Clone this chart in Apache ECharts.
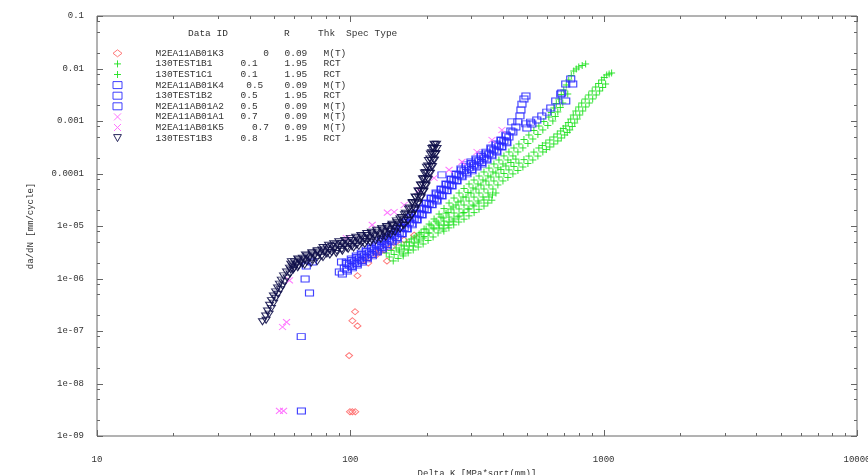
<!DOCTYPE html>
<html>
<head>
<meta charset="utf-8">
<script src="https://cdn.jsdelivr.net/npm/echarts@6/dist/echarts.min.js"></script>
<style>
  html, body { margin: 0; padding: 0; background: #ffffff; }
  #chart { width: 868px; height: 475px; }
</style>
</head>
<body>
<div id="chart"></div>
<script>
// ---- Key table ----
const seriesIds = ['M2EA11AB01K3', '130TEST1B1', '130TEST1C1', 'M2EA11AB01K4', '130TEST1B2',
                   'M2EA11AB01A2', 'M2EA11AB01A1', 'M2EA11AB01K5', '130TEST1B3'];
const rValues   = ['0', '0.1', '0.1', '0.5', '0.5', '0.5', '0.7', '0.7', '0.8'];
const thkValues = ['0.09', '1.95', '1.95', '0.09', '1.95', '0.09', '0.09', '0.09', '1.95'];
const specTypes = ['M(T)', 'RCT', 'RCT', 'M(T)', 'RCT', 'M(T)', 'M(T)', 'M(T)', 'RCT'];
const keyHeader = ['Data ID', 'R', 'Thk', 'Spec Type'];

// ---- Axis ticks ----
const xMajorTicks = [10, 100, 1000, 10000];
const xTickLabels = ['10', '100', '1000', '10000'];
const xMinorTicks = [20, 30, 40, 50, 60, 70, 80, 90, 200, 300, 400, 500, 600, 700, 800, 900,
                     2000, 3000, 4000, 5000, 6000, 7000, 8000, 9000];
const yMajorTicks = [1e-9, 1e-8, 1e-7, 1e-6, 1e-5, 1e-4, 1e-3, 1e-2, 1e-1];
const yTickLabels = ['1e-09', '1e-08', '1e-07', '1e-06', '1e-05', '0.0001', '0.001', '0.01', '0.1'];
const yMinorTicks = [2e-9, 5e-9, 8e-9, 2e-8, 5e-8, 8e-8, 2e-7, 5e-7, 8e-7, 2e-6, 5e-6, 8e-6,
                     2e-5, 5e-5, 8e-5, 2e-4, 5e-4, 8e-4, 2e-3, 5e-3, 8e-3, 2e-2, 5e-2, 8e-2];

// ---- Crack growth data: [Delta K (MPa*sqrt(mm)), da/dN (mm/cycle)] ----
const m2ea11ab01k3 = [
  [98.9,3.4e-8],[99.7,2.9e-9],[101.9,2.9e-9],[104.6,2.9e-9],[104.4,2.33e-7],[101.9,1.57e-7],
  [106.7,1.25e-7],[106.7,1.13e-6],[112,2.2e-6],[117.7,1.97e-6],[118.5,2.46e-6],[126.6,2.8e-6],
  [126.6,3.06e-6],[131,3.2e-6],[136.1,3.49e-6],[139.5,2.15e-6],[138.6,4.35e-6],[146,3.98e-6],
  [151.7,4.96e-6],[163,5.41e-6],[178.6,6.7e-6]
];
const test130b1 = [
  [155.9,3.49e-6],[170.8,4.96e-6],[186.9,7.04e-6],[204.6,1.09e-5],[224,1.69e-5],[245.3,2.74e-5],
  [268.6,4.25e-5],[294.1,6.31e-5],[322,8.96e-5],[352.5,1.27e-4],[386,1.81e-4],[422.7,2.57e-4],
  [462.8,3.65e-4],[506.7,5.41e-4],[554.8,8.03e-4],[607.5,1.19e-3],[635.7,1.77e-3],[665.1,2.62e-3],
  [695.9,3.89e-3],[728.3,6.04e-3],[762,8.96e-3],[797.4,1.07e-2],[849,1.22e-2],
  [163.1,4.16e-6],[178.7,5.91e-6],[195.5,8.76e-6],[214.1,1.36e-5],[234.3,2.15e-5],[256.6,3.41e-5],
  [281,5.18e-5],[307.7,7.52e-5],[336.9,1.07e-4],[368.8,1.52e-4],[403.9,2.16e-4],[442.3,3.06e-4],
  [484.5,4.44e-4],[530.3,6.59e-4],[580.5,9.78e-4],[621.4,1.45e-3],[650.2,2.15e-3],[680.3,3.19e-3],
  [711.9,4.85e-3],[745,7.36e-3],[779.5,9.79e-3],[822.7,1.14e-2],
  [161.7,2.93e-6],[177.1,4.17e-6],[193.8,5.91e-6],[212.2,9.16e-6],[232.3,1.42e-5],[254.4,2.3e-5],
  [278.5,3.57e-5],[305,5.3e-5],[333.9,7.53e-5],[365.5,1.07e-4],[400.3,1.52e-4],[438.3,2.16e-4],
  [479.9,3.07e-4],[525.4,4.54e-4],[575.3,6.75e-4],[630,1.0e-3],[659.2,1.49e-3],[689.7,2.2e-3],
  [721.6,3.27e-3],
  [169.1,3.49e-6],[185.3,4.96e-6],[202.7,7.36e-6],[222,1.14e-5],[243,1.81e-5],[266.1,2.86e-5],
  [291.4,4.35e-5],[319.1,6.32e-5],[349.4,8.99e-5],[382.4,1.28e-4],[418.8,1.81e-4],[458.7,2.57e-4],
  [502.4,3.73e-4],[550,5.54e-4],[602,8.22e-4],[644.4,1.22e-3],[674.3,1.81e-3],
  [224,9.16e-6],[245.3,1.19e-5],[268.6,1.55e-5],[294.1,2.11e-5],[322,2.74e-5],[352.5,3.57e-5],
  [375.7,4.25e-5],[234,8.0e-6],[256,1.05e-5],[281,1.35e-5],[308,1.8e-5],[337,2.4e-5],[362,3.1e-5],
  [234.3,1.04e-5],[256.6,1.36e-5],[281,1.81e-5],[307.7,2.4e-5],[336.9,3.13e-5],[364,3.9e-5],
  [245,9.2e-6],[268,1.19e-5],[294,1.56e-5],[322,2.08e-5],[349,2.74e-5]
];
const test130c1 = [
  [142.4,2.57e-6],[155.9,3.2e-6],[170.8,4.16e-6],[186.9,5.41e-6],[204.6,7.36e-6],[224,1.045e-5],
  [245.3,1.48e-5],[268.6,2.11e-5],[294.1,2.99e-5],[322,4.25e-5],[352.5,6.04e-5],[386,8.58e-5],
  [422.7,1.17e-4],[462.8,1.58e-4],[506.7,2.15e-4],[554.8,3.06e-4],[591.1,3.81e-4],[635.7,4.96e-4],
  [677,6.45e-4],[708.5,8.03e-4],[741.4,1.09e-3],[775.9,1.55e-3],[819,2.2e-3],[873,3.13e-3],
  [930,4.44e-3],[982,6.04e-3],[1028,7.52e-3],[1075,8.21e-3],
  [148.9,2.87e-6],[163.1,3.65e-6],[178.7,4.74e-6],[195.5,6.31e-6],[214.1,8.77e-6],[234.3,1.24e-5],
  [256.6,1.77e-5],[281,2.51e-5],[307.7,3.56e-5],[336.9,5.07e-5],[368.8,7.2e-5],[403.9,1.0e-4],
  [442.3,1.36e-4],[484.5,1.84e-4],[530.3,2.56e-4],[572.7,3.41e-4],[612.9,4.35e-4],[656,5.66e-4],
  [692.6,7.2e-4],[724.8,9.35e-4],[758.4,1.3e-3],[797.2,1.85e-3],[845.6,2.62e-3],[901,3.73e-3],
  [955.5,5.18e-3],[1005,6.74e-3],[1051,7.86e-3],
  [147.7,2.16e-6],[161.7,2.69e-6],[177.1,3.49e-6],[193.8,4.54e-6],[212.2,6.18e-6],[232.3,8.78e-6],
  [254.4,1.24e-5],[278.5,1.77e-5],[305,2.51e-5],[333.9,3.57e-5],[365.5,5.07e-5],[400.3,7.21e-5],
  [438.3,9.83e-5],[479.9,1.33e-4],[525.4,1.81e-4],[575.3,2.57e-4],[613,3.2e-4],[659,4.17e-4],
  [702,5.42e-4],[734.7,6.75e-4],[768.8,9.16e-4],[804.6,1.3e-3],[849.3,1.85e-3],[905,2.63e-3],
  [964,3.73e-3],[1018,5.07e-3],
  [154.4,2.41e-6],[169.1,3.07e-6],[185.3,3.98e-6],[202.7,5.3e-6],[222,7.37e-6],[243,1.04e-5],
  [266.1,1.49e-5],[291.4,2.11e-5],[319.1,2.99e-5],[349.4,4.26e-5],[382.4,6.05e-5],[418.8,8.4e-5],
  [458.7,1.14e-4],[502.4,1.55e-4],[550,2.15e-4],[593.9,2.86e-4],[635.6,3.65e-4],[680.3,4.75e-4],
  [718.2,6.05e-4],[751.6,7.85e-4],[786.5,1.09e-3],[826.7,1.55e-3],[876.9,2.2e-3],[934.3,3.13e-3],
  [990.8,4.35e-3],
  [138.6,3.06e-6],[151.7,3.81e-6],[166.2,4.95e-6],[181.9,6.44e-6],[199.1,8.76e-6],[218,1.24e-5],
  [238.7,1.76e-5],[261.3,2.51e-5],[286.2,3.56e-5],[313.3,5.06e-5],[343,7.19e-5],[375.6,1.02e-4],
  [411.3,1.39e-4],[450.3,1.88e-4],
  [144.9,3.42e-6],[158.7,4.34e-6],[173.9,5.64e-6],[190.2,7.51e-6],[208.3,1.04e-5],[228,1.48e-5],
  [249.7,2.11e-5],[273.4,2.99e-5],[299.4,4.24e-5],[327.8,6.03e-5],[358.8,8.57e-5],[393,1.19e-4],
  [430.4,1.62e-4]
];
const m2ea11ab01k4 = [
  [64.1,3e-9],[64,7.8e-8],[69,5.3e-7],[66.3,9.8e-7],[67,1.73e-6],[70.8,2.06e-6],[90.5,1.33e-6],
  [92.3,2.06e-6],[230,9.4e-5],
  [96.4,2.05e-6],[100.9,2.35e-6],[105.6,2.68e-6],[110.5,3.05e-6],[115.5,3.48e-6],[121,3.98e-6],
  [126.5,4.54e-6],[132.4,5.41e-6],[138.5,6.16e-6],[145,7.03e-6],[151.7,8.39e-6],[158.7,9.56e-6],
  [166,1.19e-5],[173.9,1.48e-5],[181.8,1.77e-5],[190.3,2.2e-5],[199,2.74e-5],[208.3,3.41e-5],
  [218,4.25e-5],[228,5.07e-5],[238.5,6.31e-5],[249.7,7.87e-5],[261.2,9.78e-5],[273.4,1.22e-4],
  [286,1.46e-4],[299.3,1.66e-4],[313.2,1.89e-4],[327.8,2.25e-4],[343,2.56e-4],[358.8,3.06e-4],
  [375.4,3.64e-4],[393,4.34e-4],[411.2,5.41e-4],[430.3,6.45e-4],
  [96.9,1.93e-6],[101.4,2.2e-6],[106.1,2.51e-6],[111,2.86e-6],[116.1,3.26e-6],[121.5,3.73e-6],
  [127.2,4.34e-6],[133.1,5.06e-6],[139.2,5.77e-6],[145.7,6.74e-6],[152.4,7.85e-6],[159.5,9.35e-6],
  [166.9,1.16e-5],[174.7,1.43e-5],[182.7,1.73e-5],[191.2,2.15e-5],[200,2.68e-5],[209.3,3.34e-5],
  [219,4.07e-5],[229.1,4.96e-5],[239.7,6.18e-5],[250.9,7.7e-5],[262.5,9.56e-5],[274.8,1.16e-4],
  [287.4,1.37e-4],[300.8,1.55e-4],[314.8,1.8e-4],[329.4,2.11e-4],[344.6,2.45e-4],[360.6,2.93e-4],
  [377.3,3.49e-4],[394.9,4.25e-4],[413.2,5.18e-4]
];
const test130b2 = [
  [93,1.22e-6],[97.3,1.39e-6],[101.8,1.59e-6],[106.5,1.81e-6],[111.5,2.06e-6],[116.7,2.36e-6],
  [122.1,2.69e-6],[127.8,3.2e-6],[133.7,3.65e-6],[139.8,4.17e-6],[146.3,4.97e-6],[153.1,5.66e-6],
  [160.2,7.05e-6],[167.7,8.78e-6],[175.4,1.05e-5],[183.5,1.3e-5],[192,1.62e-5],[200.9,2.02e-5],
  [210.2,2.52e-5],[220,3.0e-5],[230.1,3.73e-5],[240.9,4.66e-5],[252,5.79e-5],[263.8,7.21e-5],
  [276,8.62e-5],[288.7,9.86e-5],[302.2,1.12e-4],[316.2,1.33e-4],[330.8,1.52e-4],[346.2,1.81e-4],
  [362.2,2.16e-4],[379,2.57e-4],[396.6,3.2e-4],[415.1,3.82e-4],
  [96.9,1.48e-6],[101.4,1.69e-6],[106.1,1.93e-6],[111,2.2e-6],[116.1,2.51e-6],[121.5,2.87e-6],
  [127.2,3.34e-6],[133.1,3.89e-6],[139.2,4.44e-6],[145.7,5.18e-6],[152.4,6.04e-6],[159.5,7.19e-6],
  [166.9,8.95e-6],[174.7,1.1e-5],[182.7,1.33e-5],[191.2,1.66e-5],[200,2.06e-5],[209.3,2.57e-5],
  [219,3.13e-5],[229.1,3.81e-5],[239.7,4.75e-5],[250.9,5.92e-5],[262.5,7.36e-5],[274.8,8.95e-5],
  [287.4,1.05e-4],[300.8,1.19e-4],[314.8,1.39e-4],[329.4,1.62e-4],[344.6,1.89e-4],[360.6,2.25e-4],
  [377.3,2.68e-4],[394.9,3.27e-4],[413.2,3.98e-4],
  [434,9.6e-4],[493,8.8e-4],[515,9.5e-4],
  [497.6,7.35e-4],[520.6,8.77e-4],[544.7,1.045e-3],[570,1.245e-3],[596.5,1.48e-3],[618.5,1.77e-3],
  [647,2.4e-3],[677,3.27e-3],[683,3.41e-3],[708.5,2.4e-3],[708.5,5.07e-3],[741.4,6.31e-3],
  [755,5.07e-3]
];
const m2ea11ab01a2 = [
  [94.7,1.58e-6],[99.1,1.81e-6],[103.7,2.06e-6],[108.5,2.35e-6],[113.5,2.68e-6],[118.8,3.06e-6],
  [124.3,3.49e-6],[130.1,4.16e-6],[136.1,4.74e-6],[142.4,5.41e-6],[149,6.45e-6],[155.9,7.35e-6],
  [163.1,9.16e-6],[170.8,1.14e-5],[178.6,1.36e-5],[186.9,1.69e-5],[195.5,2.11e-5],[204.6,2.62e-5],
  [214.1,3.27e-5],[224,3.9e-5],[234.3,4.85e-5],[245.3,6.05e-5],[256.6,7.52e-5],[268.6,9.37e-5],
  [281,1.12e-4],[294,1.28e-4],[307.7,1.45e-4],[322,1.73e-4],[336.9,1.97e-4],[352.5,2.35e-4],
  [368.8,2.8e-4],[386,3.34e-4],[403.9,4.16e-4],[422.7,4.96e-4],[438.1,6.18e-4],[450.2,7.7e-4],
  [458.4,9.6e-4],[467.3,1.25e-3],[471.5,1.62e-3],[475.9,2.1e-3],[484.5,2.62e-3],[493.4,2.99e-3]
];
const m2ea11ab01a1 = [
  [52.5,3e-9],[54.5,3e-9],[56,1.48e-7],[54,1.19e-7],[57.5,9.2e-7],[96.4,5.9e-6],[122,1.05e-5],
  [140,1.8e-5]
];
const m2ea11ab01k5 = [
  [149,1.85e-5],[163.1,2.51e-5],[186.9,4.85e-5],[214.1,8.2e-5],[245.3,1.17e-4],[276,1.66e-4],
  [316.2,2.57e-4],[362.3,4.35e-4],[396.6,6.74e-4]
];
const test130b3 = [
  [45,1.5e-7],[46.3,1.93e-7],[47.1,2.41e-7],[48,3.1e-7],[48.8,3.8e-7],[49.7,4.64e-7],[50.7,5.55e-7],
  [51.6,6.6e-7],[52.5,7.8e-7],[53.4,9.3e-7],[54.5,1.12e-6],[56,1.33e-6],[57.5,1.58e-6],[59,1.73e-6],
  [61.3,1.89e-6],[63.6,2.06e-6],[65.9,2.25e-6],[68.9,2.46e-6],[72.2,2.68e-6],[75.5,2.93e-6],
  [79,3.2e-6],[82.6,3.49e-6],[86.5,3.65e-6],[90.5,3.98e-6],[94.7,4.16e-6],[99.1,4.54e-6],
  [103.7,4.74e-6],[108.5,5.18e-6],[113.5,5.65e-6],[118.8,5.9e-6],[124.3,6.45e-6],[130.1,7.0e-6],
  [136.1,7.7e-6],[142.4,8.4e-6],[149,9.6e-6],[155.9,1.09e-5],[163.1,1.3e-5],[169.2,1.62e-5],
  [175.4,2.11e-5],[180.2,2.74e-5],[185.2,3.56e-5],[190.3,4.64e-5],[193.7,6.05e-5],[197.3,7.85e-5],
  [201,1.02e-4],[204.6,1.33e-4],[208.3,1.8e-4],[212.2,2.35e-4],[214.1,2.93e-4],[216.1,3.5e-4],
  [46.5,1.6e-7],[47.8,2.1e-7],[48.8,2.7e-7],[49.8,3.4e-7],[50.8,4.2e-7],[51.8,5.0e-7],[53,6.1e-7],
  [54,7.2e-7],[55,8.6e-7],[56.3,1.02e-6],[57.8,1.22e-6],[59.5,1.45e-6],
  [58.5,2.1e-6],[62,2.35e-6],[66.5,2.8e-6],[70.5,3.1e-6],[74,3.4e-6],[78,3.9e-6],[82,4.3e-6],
  [86,4.6e-6],[90,5.0e-6],[95,5.3e-6],[100,5.8e-6],[105,6.1e-6],[110,6.6e-6],[116,7.2e-6],
  [121,7.6e-6],[127,8.3e-6],[133,9.0e-6],[139,9.8e-6],[146,1.08e-5],[152,1.25e-5],[159,1.45e-5],
  [165,1.75e-5],[171,2.2e-5],[176,2.8e-5],[181,3.5e-5],[186,4.6e-5],[190,6.0e-5],[194,8.0e-5],
  [198,1.05e-4],[202,1.4e-4],[206,1.9e-4],[209,2.5e-4],[212,3.1e-4],[214,3.6e-4],
  [62,1.6e-6],[66,1.8e-6],[70,1.95e-6],[74,2.1e-6],[78,2.5e-6],[83,2.8e-6],[88,3.0e-6],[93,3.3e-6],
  [98,3.6e-6],[103,3.8e-6],[108,4.1e-6],[114,4.5e-6],[120,4.8e-6],[126,5.2e-6],[132,5.6e-6],
  [138,6.1e-6],[144,6.8e-6],[150,7.6e-6],[157,8.7e-6],[163,1.02e-5],[169,1.25e-5],[175,1.6e-5],
  [180,2.0e-5],[185,2.6e-5],[190,3.4e-5],[195,4.5e-5],[199,5.8e-5],[203,7.6e-5],[207,1.0e-4],
  [211,1.35e-4],[215,1.8e-4],[218,2.4e-4],[220,3.0e-4],[219,3.6e-4],
  [58.2,1.88e-6],[60.1,2.06e-6],[62.4,2.25e-6],[64.7,2.45e-6],[67.4,2.68e-6],[70.5,2.93e-6],
  [73.8,3.19e-6],[77.2,3.49e-6],[80.8,3.81e-6],[84.5,4.07e-6],[88.5,4.34e-6],[92.6,4.64e-6],
  [96.9,4.96e-6],[101.4,5.29e-6],[106.1,5.65e-6],[111,6.17e-6],[116.1,6.58e-6],[121.5,7.03e-6],
  [127.2,7.66e-6],[133.1,8.37e-6],[139.2,9.17e-6],[145.7,1.02e-5],[152.4,1.16e-5],[157,1.36e-5],
  [163.6,1.65e-5],[169.7,2.1e-5],[175.1,2.74e-5],[180,3.56e-5],[184.9,4.63e-5],[189.1,6.04e-5],
  [192.6,7.85e-5],[196.1,1.02e-4],[199.8,1.32e-4],[203.3,1.77e-4],[207,2.35e-4],[209.9,2.99e-4],
  [58.2,1.45e-6],[60.1,1.59e-6],[62.4,1.73e-6],[64.7,1.89e-6],[67.4,2.06e-6],[70.5,2.25e-6],
  [73.8,2.46e-6],[77.2,2.68e-6],[80.8,2.93e-6],[84.5,3.13e-6],[88.5,3.34e-6],[92.6,3.57e-6],
  [96.9,3.81e-6],[101.4,4.07e-6],[106.1,4.35e-6],[111,4.74e-6],[116.1,5.06e-6],[121.5,5.41e-6],
  [127.2,5.89e-6],[133.1,6.44e-6],[139.2,7.05e-6],[145.7,7.88e-6],[152.4,8.95e-6],[161.9,1.04e-5],
  [168.6,1.27e-5],[174.9,1.62e-5],[180.5,2.1e-5],[185.4,2.74e-5],[190.5,3.56e-5],[194.9,4.65e-5],
  [198.4,6.04e-5],[202.1,7.85e-5],[205.8,1.02e-4],[209.5,1.36e-4],[213.4,1.81e-4],[216.3,2.3e-4]
];

const specimenData = {
  'M2EA11AB01K3': m2ea11ab01k3, '130TEST1B1': test130b1, '130TEST1C1': test130c1,
  'M2EA11AB01K4': m2ea11ab01k4, '130TEST1B2': test130b2, 'M2EA11AB01A2': m2ea11ab01a2,
  'M2EA11AB01A1': m2ea11ab01a1, 'M2EA11AB01K5': m2ea11ab01k5, '130TEST1B3': test130b3
};

// ---- Styling ----
const MONO = '"Liberation Mono", "DejaVu Sans Mono", monospace';
const TEXT = '#333333';
const FRAME = '#666666';
const PLUS = 'path://M0,5L10,5M5,0L5,10';
const CROSS = 'path://M0,0L10,10M10,0L0,10';
const TRI_DOWN = 'path://M0,0L10,0L5,9Z';
const RED = '#ff6a6a', GREEN = '#1ee01e', BLUE = '#2b2bff', PINK = '#ff66ff', NAVY = '#10104a';
const markerStyle = {
  'M2EA11AB01K3': { symbol: 'diamond', size: [7, 6], color: RED },
  '130TEST1B1':   { symbol: PLUS, size: [7, 7], color: GREEN },
  '130TEST1C1':   { symbol: PLUS, size: [7, 7], color: GREEN },
  'M2EA11AB01K4': { symbol: 'rect', size: [8, 6], color: BLUE },
  '130TEST1B2':   { symbol: 'rect', size: [8, 6], color: BLUE },
  'M2EA11AB01A2': { symbol: 'rect', size: [8, 6], color: BLUE },
  'M2EA11AB01A1': { symbol: CROSS, size: [7, 6], color: PINK },
  'M2EA11AB01K5': { symbol: CROSS, size: [7, 6], color: PINK },
  '130TEST1B3':   { symbol: TRI_DOWN, size: [8, 6], color: NAVY }
};
// extra spaces before the R value in some key rows
const rIndent = { 'M2EA11AB01K3': 4, 'M2EA11AB01K4': 1, 'M2EA11AB01K5': 2 };

const scatterSeries = seriesIds.map(id => {
  const m = markerStyle[id];
  return {
    name: id,
    type: 'scatter',
    data: specimenData[id],
    symbol: m.symbol,
    symbolSize: m.size,
    itemStyle: { color: 'transparent', borderColor: m.color, borderWidth: 1, opacity: 0.9 },
    emphasis: { disabled: true },
    animation: false
  };
});

// gnuplot-style ticks on all four sides of the frame
const xTickData = xMajorTicks.map(v => [v, 1e-5, 1]).concat(xMinorTicks.map(v => [v, 1e-5, 0]));
const yTickData = yMajorTicks.map(v => [100, v, 1]).concat(yMinorTicks.map(v => [100, v, 0]));

function tickLine(x1, y1, x2, y2) {
  return { type: 'line', shape: { x1, y1, x2, y2 }, style: { stroke: FRAME, lineWidth: 1 } };
}
const tickSeries = [
  {
    type: 'custom', silent: true, z: 5, animation: false, data: xTickData,
    renderItem(params, api) {
      const cs = params.coordSys;
      const p = api.coord([api.value(0), api.value(1)]);
      const len = api.value(2) ? 6 : 3;
      const x = Math.round(p[0]) + 0.5;
      const bottom = cs.y + cs.height;
      return { type: 'group', children: [
        tickLine(x, bottom, x, bottom - len),
        tickLine(x, cs.y, x, cs.y + len)
      ] };
    }
  },
  {
    type: 'custom', silent: true, z: 5, animation: false, data: yTickData,
    renderItem(params, api) {
      const cs = params.coordSys;
      const p = api.coord([api.value(0), api.value(1)]);
      const len = api.value(2) ? 6 : 3;
      const y = Math.round(p[1]) + 0.5;
      const right = cs.x + cs.width;
      return { type: 'group', children: [
        tickLine(cs.x, y, cs.x + len, y),
        tickLine(right, y, right - len, y)
      ] };
    }
  }
];

function labelFor(ticks, labels, v) {
  const i = ticks.findIndex(t => Math.abs(Math.log10(t) - Math.log10(v)) < 1e-6);
  return i >= 0 ? labels[i] : '';
}

const keyFont = '9.5px ' + MONO;
const headerX = [188, 284, 318, 346];

const chart = echarts.init(document.getElementById('chart'), null, { renderer: 'canvas' });
chart.setOption({
  backgroundColor: '#ffffff',
  animation: false,
  grid: {
    left: 97, top: 16, width: 760, height: 420,
    show: true, borderColor: FRAME, borderWidth: 1, backgroundColor: 'transparent',
    outerBoundsMode: 'none', containLabel: false
  },
  xAxis: {
    type: 'log', logBase: 10, min: 10, max: 10000, splitNumber: 3,
    axisLine: { show: false }, axisTick: { show: false }, splitLine: { show: false },
    axisLabel: {
      margin: 19, fontFamily: MONO, fontSize: 9, color: TEXT,
      formatter: v => labelFor(xMajorTicks, xTickLabels, v)
    },
    name: 'Delta K [MPa*sqrt(mm)]', nameLocation: 'middle', nameGap: 31,
    nameTextStyle: { fontFamily: MONO, fontSize: 9, color: TEXT }
  },
  yAxis: {
    type: 'log', logBase: 10, min: 1e-9, max: 0.1, splitNumber: 8,
    axisLine: { show: false }, axisTick: { show: false }, splitLine: { show: false },
    axisLabel: {
      margin: 13, fontFamily: MONO, fontSize: 9, color: TEXT,
      formatter: v => labelFor(yMajorTicks, yTickLabels, v)
    },
    name: 'da/dN [mm/cycle]', nameLocation: 'middle', nameGap: 62, nameRotate: 90,
    nameTextStyle: { fontFamily: MONO, fontSize: 9, color: TEXT }
  },
  legend: {
    data: seriesIds,
    orient: 'vertical', left: 112.5, top: 48, padding: 0, itemGap: 0,
    itemWidth: 9, itemHeight: 7, selectedMode: false,
    itemStyle: { borderWidth: 1 },
    textStyle: {
      fontFamily: MONO, fontSize: 9.5, color: TEXT, lineHeight: 10.6,
      rich: {
        pre: { width: 28.5, lineHeight: 10.6 },
        id: { width: 85, fontFamily: MONO, fontSize: 9.5, color: TEXT, lineHeight: 10.6 },
        r: { width: 44, fontFamily: MONO, fontSize: 9.5, color: TEXT, lineHeight: 10.6 },
        t: { width: 39, fontFamily: MONO, fontSize: 9.5, color: TEXT, lineHeight: 10.6 },
        s: { fontFamily: MONO, fontSize: 9.5, color: TEXT, lineHeight: 10.6 }
      }
    },
    formatter: name => {
      const i = seriesIds.indexOf(name);
      const r = ' '.repeat(rIndent[name] || 0) + rValues[i];
      return `{pre| }{id|${name}}{r|${r}}{t|${thkValues[i]}}{s|${specTypes[i]}}`;
    }
  },
  graphic: keyHeader.map((t, i) => ({
    type: 'text', x: headerX[i], y: 33, silent: true,
    style: { text: t, font: keyFont, fill: TEXT, verticalAlign: 'middle' }
  })),
  series: scatterSeries.concat(tickSeries)
});
</script>
</body>
</html>
